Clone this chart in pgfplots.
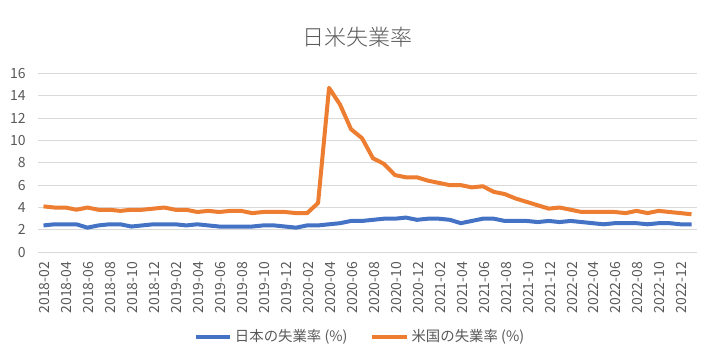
\documentclass[border=0pt]{standalone}
\usepackage{fontspec}
\setmainfont{Noto Sans CJK JP}
\newfontfamily\titlefont{Noto Sans CJK JP Light}
\usepackage{pgfplots}
\pgfplotsset{compat=1.18}
\definecolor{jpblue}{HTML}{4472C4}
\definecolor{usorange}{HTML}{ED7D31}
\definecolor{txtgray}{HTML}{595959}
\definecolor{gridgray}{HTML}{D9D9D9}
\pgfplotstableread{
idx jp us
0 2.4 4.1
1 2.5 4.0
2 2.5 4.0
3 2.5 3.8
4 2.2 4.0
5 2.4 3.8
6 2.5 3.8
7 2.5 3.7
8 2.3 3.8
9 2.4 3.8
10 2.5 3.9
11 2.5 4.0
12 2.5 3.8
13 2.4 3.8
14 2.5 3.6
15 2.4 3.7
16 2.3 3.6
17 2.3 3.7
18 2.3 3.7
19 2.3 3.5
20 2.4 3.6
21 2.4 3.6
22 2.3 3.6
23 2.2 3.5
24 2.4 3.5
25 2.4 4.4
26 2.5 14.7
27 2.6 13.2
28 2.8 11.0
29 2.8 10.2
30 2.9 8.4
31 3.0 7.9
32 3.0 6.9
33 3.1 6.7
34 2.9 6.7
35 3.0 6.4
36 3.0 6.2
37 2.9 6.0
38 2.6 6.0
39 2.8 5.8
40 3.0 5.9
41 3.0 5.4
42 2.8 5.2
43 2.8 4.8
44 2.8 4.5
45 2.7 4.2
46 2.8 3.9
47 2.7 4.0
48 2.8 3.8
49 2.7 3.6
50 2.6 3.6
51 2.5 3.6
52 2.6 3.6
53 2.6 3.5
54 2.6 3.7
55 2.5 3.5
56 2.6 3.7
57 2.6 3.6
58 2.5 3.5
59 2.5 3.4
}\datatable
\begin{document}
\begin{tikzpicture}
\useasboundingbox (0,0) rectangle (531pt,268.5pt);
\begin{axis}[
  at={(28.5pt,79.3pt)}, anchor=south west,
  scale only axis, width=494.25pt, height=134.25pt,
  xmin=-0.5, xmax=59.5, ymin=0, ymax=16,
  ytick={0,2,...,16},
  xtick={0,2,...,58},
  xticklabels={2018-02,2018-04,2018-06,2018-08,2018-10,2018-12,
    2019-02,2019-04,2019-06,2019-08,2019-10,2019-12,
    2020-02,2020-04,2020-06,2020-08,2020-10,2020-12,
    2021-02,2021-04,2021-06,2021-08,2021-10,2021-12,
    2022-02,2022-04,2022-06,2022-08,2022-10,2022-12},
  axis line style={draw=none},
  major tick length=0pt,
  ymajorgrids, grid style={gridgray, line width=0.75pt},
  /pgf/number format/assume math mode=true,
  ticklabel style={text=txtgray, font=\fontsize{10.5pt}{12.5pt}\selectfont},
  yticklabel style={anchor=east, inner sep=0pt, xshift=-9pt},
  xticklabel style={rotate=90, anchor=east, inner sep=0pt, xshift=-7pt, yshift=-1pt},
  legend style={at={(0.489,-0.473)}, anchor=center, draw=none, fill=none,
    legend columns=2, font=\fontsize{10.8pt}{13pt}\selectfont, text=txtgray,
    /tikz/every even column/.append style={column sep=15pt}},
  legend cell align=left,
  legend image code/.code={\draw[#1] (0pt,0pt) -- (26pt,0pt);},
]
\addplot[jpblue, line width=3pt, line join=round] table[x=idx, y=jp] {\datatable};
\addlegendentry{日本の失業率 (\%)}
\addplot[usorange, line width=3pt, line join=round] table[x=idx, y=us] {\datatable};
\addlegendentry{米国の失業率 (\%)}
\end{axis}
\node[text=txtgray, font=\titlefont\fontsize{16.5pt}{19pt}\selectfont] at (267.75pt,240.75pt) {日米失業率};
\end{tikzpicture}
\end{document}
